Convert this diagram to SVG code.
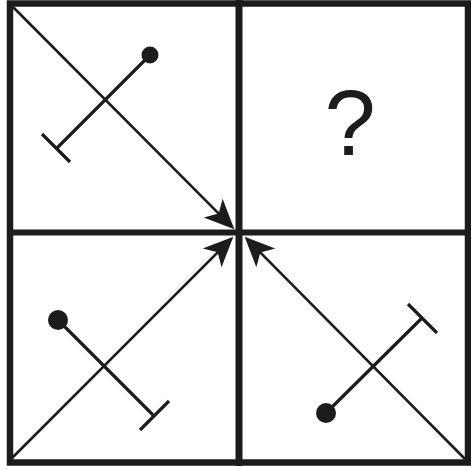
<svg xmlns="http://www.w3.org/2000/svg" width="471" height="470" viewBox="0 0 471 470">
<style>
.frame{fill:none;stroke:#1c1c1c;stroke-width:6.5}
.div{stroke:#1c1c1c}
.arrow{fill:none;stroke:#1c1c1c;stroke-width:2.6}
.stem{fill:none;stroke:#1c1c1c;stroke-width:3.2}
.knob{fill:#1c1c1c}
.q{font-family:"Liberation Sans",Arial,sans-serif;font-size:92px;fill:#1c1c1c;text-anchor:middle}
</style>
<defs>
<marker id="ah" markerUnits="userSpaceOnUse" markerWidth="40" markerHeight="40" viewBox="-30 -15 36 30" refX="0" refY="0" orient="auto">
<path d="M4,0 L-23,-12 L-16,0 L-23,12 Z" fill="#1c1c1c"/>
</marker>
</defs>
<rect width="471" height="470" fill="#fff"/>
<g id="grid">
<rect class="frame" x="10" y="3.5" width="458" height="459"/>
<line class="div" x1="239" y1="0" x2="239" y2="466" stroke-width="7"/>
<line class="div" x1="7" y1="232.5" x2="471" y2="232.5" stroke-width="6"/>
</g>
<g id="connectors">
<line class="arrow" x1="13" y1="7" x2="231.2" y2="226.2" marker-end="url(#ah)"/>
<line class="arrow" x1="11" y1="459" x2="230.2" y2="239.8" marker-end="url(#ah)"/>
<line class="arrow" x1="465" y1="459" x2="247.8" y2="239.8" marker-end="url(#ah)"/>
</g>
<g id="shape-tl">
<line class="stem" x1="150" y1="55" x2="57" y2="148"/>
<line class="stem" x1="42" y1="134" x2="70" y2="162"/>
<circle class="knob" cx="150" cy="55" r="8.5"/>
</g>
<g id="question">
<text class="q" x="350" y="155">?</text>
</g>
<g id="shape-bl">
<line class="stem" x1="58" y1="320" x2="154" y2="416"/>
<line class="stem" x1="140" y1="430" x2="169" y2="401"/>
<circle class="knob" cx="58" cy="320" r="10"/>
</g>
<g id="shape-br">
<line class="stem" x1="326" y1="413" x2="422" y2="318"/>
<line class="stem" x1="408" y1="304" x2="437" y2="333"/>
<circle class="knob" cx="326" cy="413" r="10"/>
</g>
</svg>
